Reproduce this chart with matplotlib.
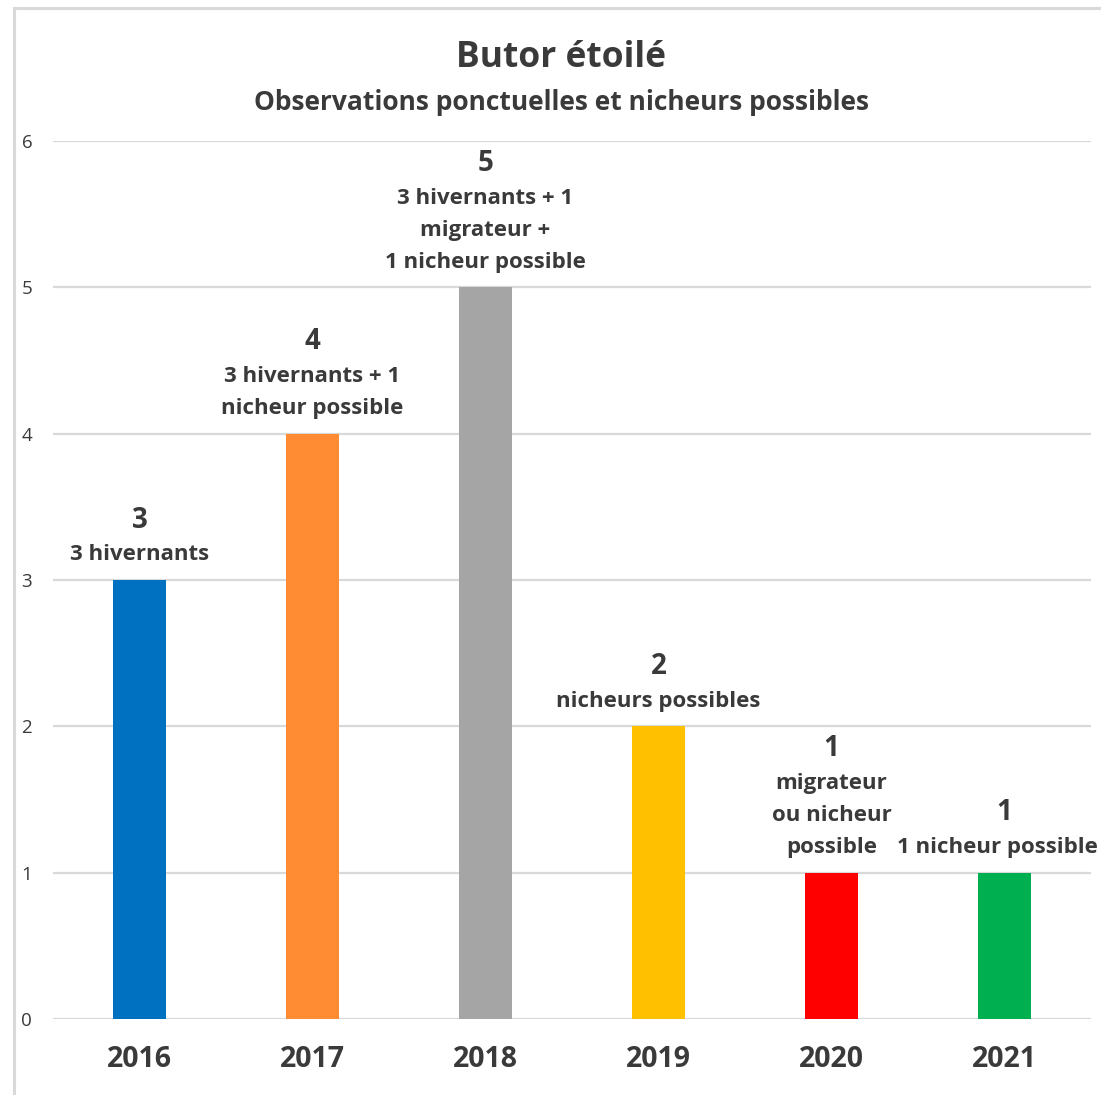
import matplotlib
matplotlib.use("Agg")
import matplotlib.pyplot as plt
from matplotlib.patches import Rectangle

years = ["2016", "2017", "2018", "2019", "2020", "2021"]
values = [3, 4, 5, 2, 1, 1]
descriptions = [
    ["3 hivernants"],
    ["3 hivernants + 1", "nicheur possible"],
    ["3 hivernants + 1", "migrateur +", "1 nicheur possible"],
    ["nicheurs possibles"],
    ["migrateur", "ou nicheur", "possible"],
    ["1 nicheur possible"],
]
colors = ["#0070C0", "#FF8B33", "#A5A5A5", "#FFC000", "#FF0000", "#00B050"]
yticks = [0, 1, 2, 3, 4, 5, 6]
title = "Butor étoilé"
subtitle = "Observations ponctuelles et nicheurs possibles"

plt.rcParams['font.family'] = ['Open Sans', 'DejaVu Sans']
txt = "#3a3a3a"
W, H = 1101, 1095
fig = plt.figure(figsize=(W / 100, H / 100), dpi=100)

# outer chart border (cropped on right and bottom)
fig.patches.append(Rectangle((14 / W, -0.1), 1.2, (H - 8) / H + 0.1,
                             transform=fig.transFigure, fill=False,
                             edgecolor="#d9d9d9", linewidth=2.2))

ax = fig.add_axes([53 / W, (H - 1019) / H, (1091 - 53) / W, (1019 - 141) / H])
x = list(range(len(years)))
bars = ax.bar(x, values, width=0.31, color=colors, zorder=3)
ax.set_xlim(-0.5, len(years) - 0.5)
ax.set_ylim(0, 6)
ax.set_yticks(yticks)
ax.set_yticklabels([str(t) for t in yticks], fontsize=13.5, color=txt)
ax.set_xticks(x)
ax.set_xticklabels(years, fontsize=20.5, fontweight="bold", color=txt)
ax.tick_params(axis="y", length=0, pad=15)
ax.tick_params(axis="x", length=0, pad=19)
ax.yaxis.grid(True, color="#d9d9d9", linewidth=1.6, zorder=0)
for s in ax.spines.values():
    s.set_visible(False)

label_texts = []
for xi, v, lines in zip(x, values, descriptions):
    n = len(lines)
    group = []
    for i, line in enumerate(reversed(lines)):
        group.append(ax.annotate(line, (xi, v), xytext=(0, 25 + 32 * i), textcoords="offset pixels",
                                 ha="center", va="center", fontsize=16, fontweight="bold",
                                 color=txt, annotation_clip=False))
    group.append(ax.annotate(str(v), (xi, v), xytext=(0, 25 + 32 * (n - 1) + 35),
                             textcoords="offset pixels", ha="center", va="center",
                             fontsize=20, fontweight="bold", color=txt,
                             annotation_clip=False))
    label_texts.append(group)

fig.text(561 / W, 1 - 58 / H, title, ha="center", va="center", fontsize=25.5,
         fontweight="bold", color=txt)
fig.text(561 / W, 1 - 103 / H, subtitle, ha="center", va="center", fontsize=19,
         fontweight="bold", color=txt)

# keep labels inside the picture (shift the whole label block like Excel does)
fig.canvas.draw()
r = fig.canvas.get_renderer()
for group in label_texts:
    right = max(t.get_window_extent(r).x1 for t in group)
    if right > W - 3:
        shift = right - (W - 3)
        for t in group:
            if t.get_text().strip() and not t.get_text().isdigit():
                ox, oy = t.xyann
                t.xyann = (ox - shift, oy)

fig.savefig("out.png", dpi=100, facecolor="white")
